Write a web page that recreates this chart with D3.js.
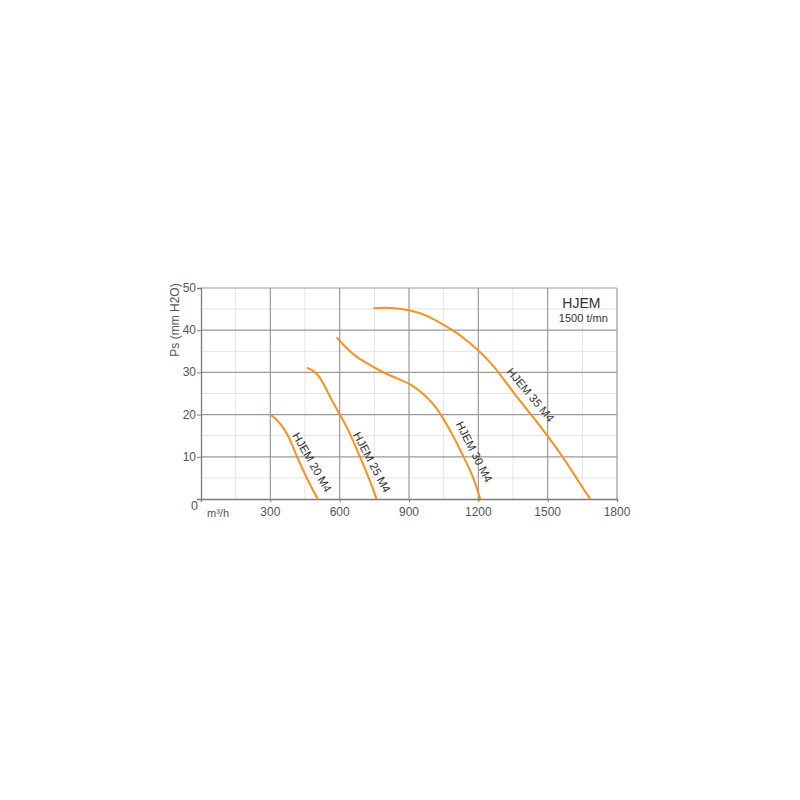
<!DOCTYPE html>
<html>
<head>
<meta charset="utf-8">
<script src="https://cdn.jsdelivr.net/npm/d3@7"></script>
<style>
  html, body { margin: 0; padding: 0; background: #ffffff; }
  svg { display: block; }
  text { font-family: Arial, "Liberation Sans", sans-serif; }
</style>
</head>
<body>
<script>
// ---- data ----
const xTicks = [300, 600, 900, 1200, 1500, 1800];
const yTicks = [10, 20, 30, 40, 50];
const xMinor = [150, 450, 750, 1050, 1350, 1650];
const yMinor = [5, 15, 25, 35, 45];

const seriesNames = ["HJEM 20 M4", "HJEM 25 M4", "HJEM 30 M4", "HJEM 35 M4"];
const hjem20 = [[300, 20], [320, 19.2], [345, 17.8], [375, 15.3], [395, 12.8], [415, 10], [440, 7], [470, 3.6], [505, 0]];
const hjem25 = [[458, 31.1], [480, 30.6], [501, 29.8], [525, 27.9], [544, 25.8], [573, 22.7], [602, 19.9], [638, 16.4], [688, 10], [727, 4.9], [760, 0]];
const hjem30 = [[587, 38.3], [615, 36.6], [645, 34.9], [680, 33.4], [717, 32.2], [775, 30.3], [847, 28.6], [905, 27.3], [948, 25.6], [1005, 22.7], [1049, 19.1], [1093, 14.8], [1136, 10], [1179, 5.3], [1208, 0]];
const hjem35 = [[746, 45.2], [790, 45.35], [833, 45.3], [905, 44.8], [977, 43.6], [1064, 40.8], [1121, 38.9], [1200, 35.3], [1250, 32.5], [1300, 29.2], [1352, 25.2], [1424, 20.3], [1500, 15], [1576, 9.2], [1634, 4.1], [1684, 0]];
const seriesData = [hjem20, hjem25, hjem30, hjem35];
// label anchor (data units) and rotation angle
const labelPos = [[481, 8.7], [740, 8.7], [1182, 11.2], [1426, 24.7]];
const labelAngle = [60, 62, 63, 50];

const titleText = "HJEM";
const subtitleText = "1500 t/mn";
const yLabel = "Ps (mm H2O)";
const xUnit = "m³/h";

// ---- drawing ----
const W = 800, H = 800;
const svg = d3.select("body").append("svg").attr("width", W).attr("height", H);

const x = d3.scaleLinear().domain([0, 1800]).range([201, 617]);
const y = d3.scaleLinear().domain([0, 50]).range([499, 288]);

const g = svg.append("g");

// minor grid
g.selectAll(".xminor").data(xMinor).enter().append("line")
  .attr("x1", d => x(d)).attr("x2", d => x(d))
  .attr("y1", y(0)).attr("y2", y(50))
  .attr("stroke", "#e3e3e3").attr("stroke-width", 1);
g.selectAll(".yminor").data(yMinor).enter().append("line")
  .attr("x1", x(0)).attr("x2", x(1800))
  .attr("y1", d => y(d)).attr("y2", d => y(d))
  .attr("stroke", "#e3e3e3").attr("stroke-width", 1);

// major grid
g.selectAll(".xmajor").data(xTicks).enter().append("line")
  .attr("x1", d => x(d)).attr("x2", d => x(d))
  .attr("y1", y(0)).attr("y2", y(50))
  .attr("stroke", "#9a9a9a").attr("stroke-width", 1.2);
g.selectAll(".ymajor").data(yTicks).enter().append("line")
  .attr("x1", x(0)).attr("x2", x(1800))
  .attr("y1", d => y(d)).attr("y2", d => y(d))
  .attr("stroke", "#9a9a9a").attr("stroke-width", 1.2);

// axes
const xAxis = d3.axisBottom(x).tickValues([0].concat(xTicks)).tickSize(3).tickFormat("");
const yAxis = d3.axisLeft(y).tickValues([0].concat(yTicks)).tickSize(4).tickFormat("");
const xa = g.append("g").attr("transform", `translate(0,${y(0)})`).call(xAxis);
const ya = g.append("g").attr("transform", `translate(${x(0)},0)`).call(yAxis);
[xa, ya].forEach(a => {
  a.select(".domain").attr("stroke", "#7a7a7a").attr("stroke-width", 1.3);
  a.selectAll(".tick line").attr("stroke", "#7a7a7a");
});

// tick labels
g.selectAll(".xlab").data(xTicks).enter().append("text")
  .attr("x", d => x(d)).attr("y", y(0) + 17)
  .attr("text-anchor", "middle").attr("font-size", 12).attr("fill", "#555")
  .text(d => d);
g.selectAll(".ylab").data(yTicks).enter().append("text")
  .attr("x", x(0) - 5).attr("y", d => y(d) + 4)
  .attr("text-anchor", "end").attr("font-size", 12).attr("fill", "#555")
  .text(d => d);
g.append("text").attr("x", x(0) - 3).attr("y", y(0) + 11)
  .attr("text-anchor", "end").attr("font-size", 12.5).attr("fill", "#555").text("0");
g.append("text").attr("x", x(0) + 6).attr("y", y(0) + 18)
  .attr("font-size", 11).attr("fill", "#555").text(xUnit);

// y label
g.append("text")
  .attr("transform", `translate(${x(0) - 22},${y(50) + 32}) rotate(-90)`)
  .attr("text-anchor", "middle").attr("font-size", 12).attr("fill", "#555")
  .text(yLabel);

// curves
const line = d3.line().x(d => x(d[0])).y(d => y(d[1])).curve(d3.curveBasis);
g.selectAll(".curve").data(seriesData).enter().append("path")
  .attr("d", line).attr("fill", "none")
  .attr("stroke", "#f7901e").attr("stroke-width", 2);

// curve labels
g.selectAll(".clab").data(seriesNames).enter().append("text")
  .attr("transform", (d, i) => `translate(${x(labelPos[i][0])},${y(labelPos[i][1])}) rotate(${labelAngle[i]})`)
  .attr("text-anchor", "middle").attr("dy", "0.35em")
  .attr("font-size", 11.5).attr("fill", "#333")
  .text(d => d);

// title
g.append("text").attr("x", x(1650) - 1).attr("y", y(45) - 1)
  .attr("text-anchor", "middle").attr("font-size", 14).attr("fill", "#333").text(titleText);
g.append("text").attr("x", x(1650) + 1).attr("y", y(45) + 12.5)
  .attr("text-anchor", "middle").attr("font-size", 11).attr("fill", "#333").text(subtitleText);
</script>
</body>
</html>
